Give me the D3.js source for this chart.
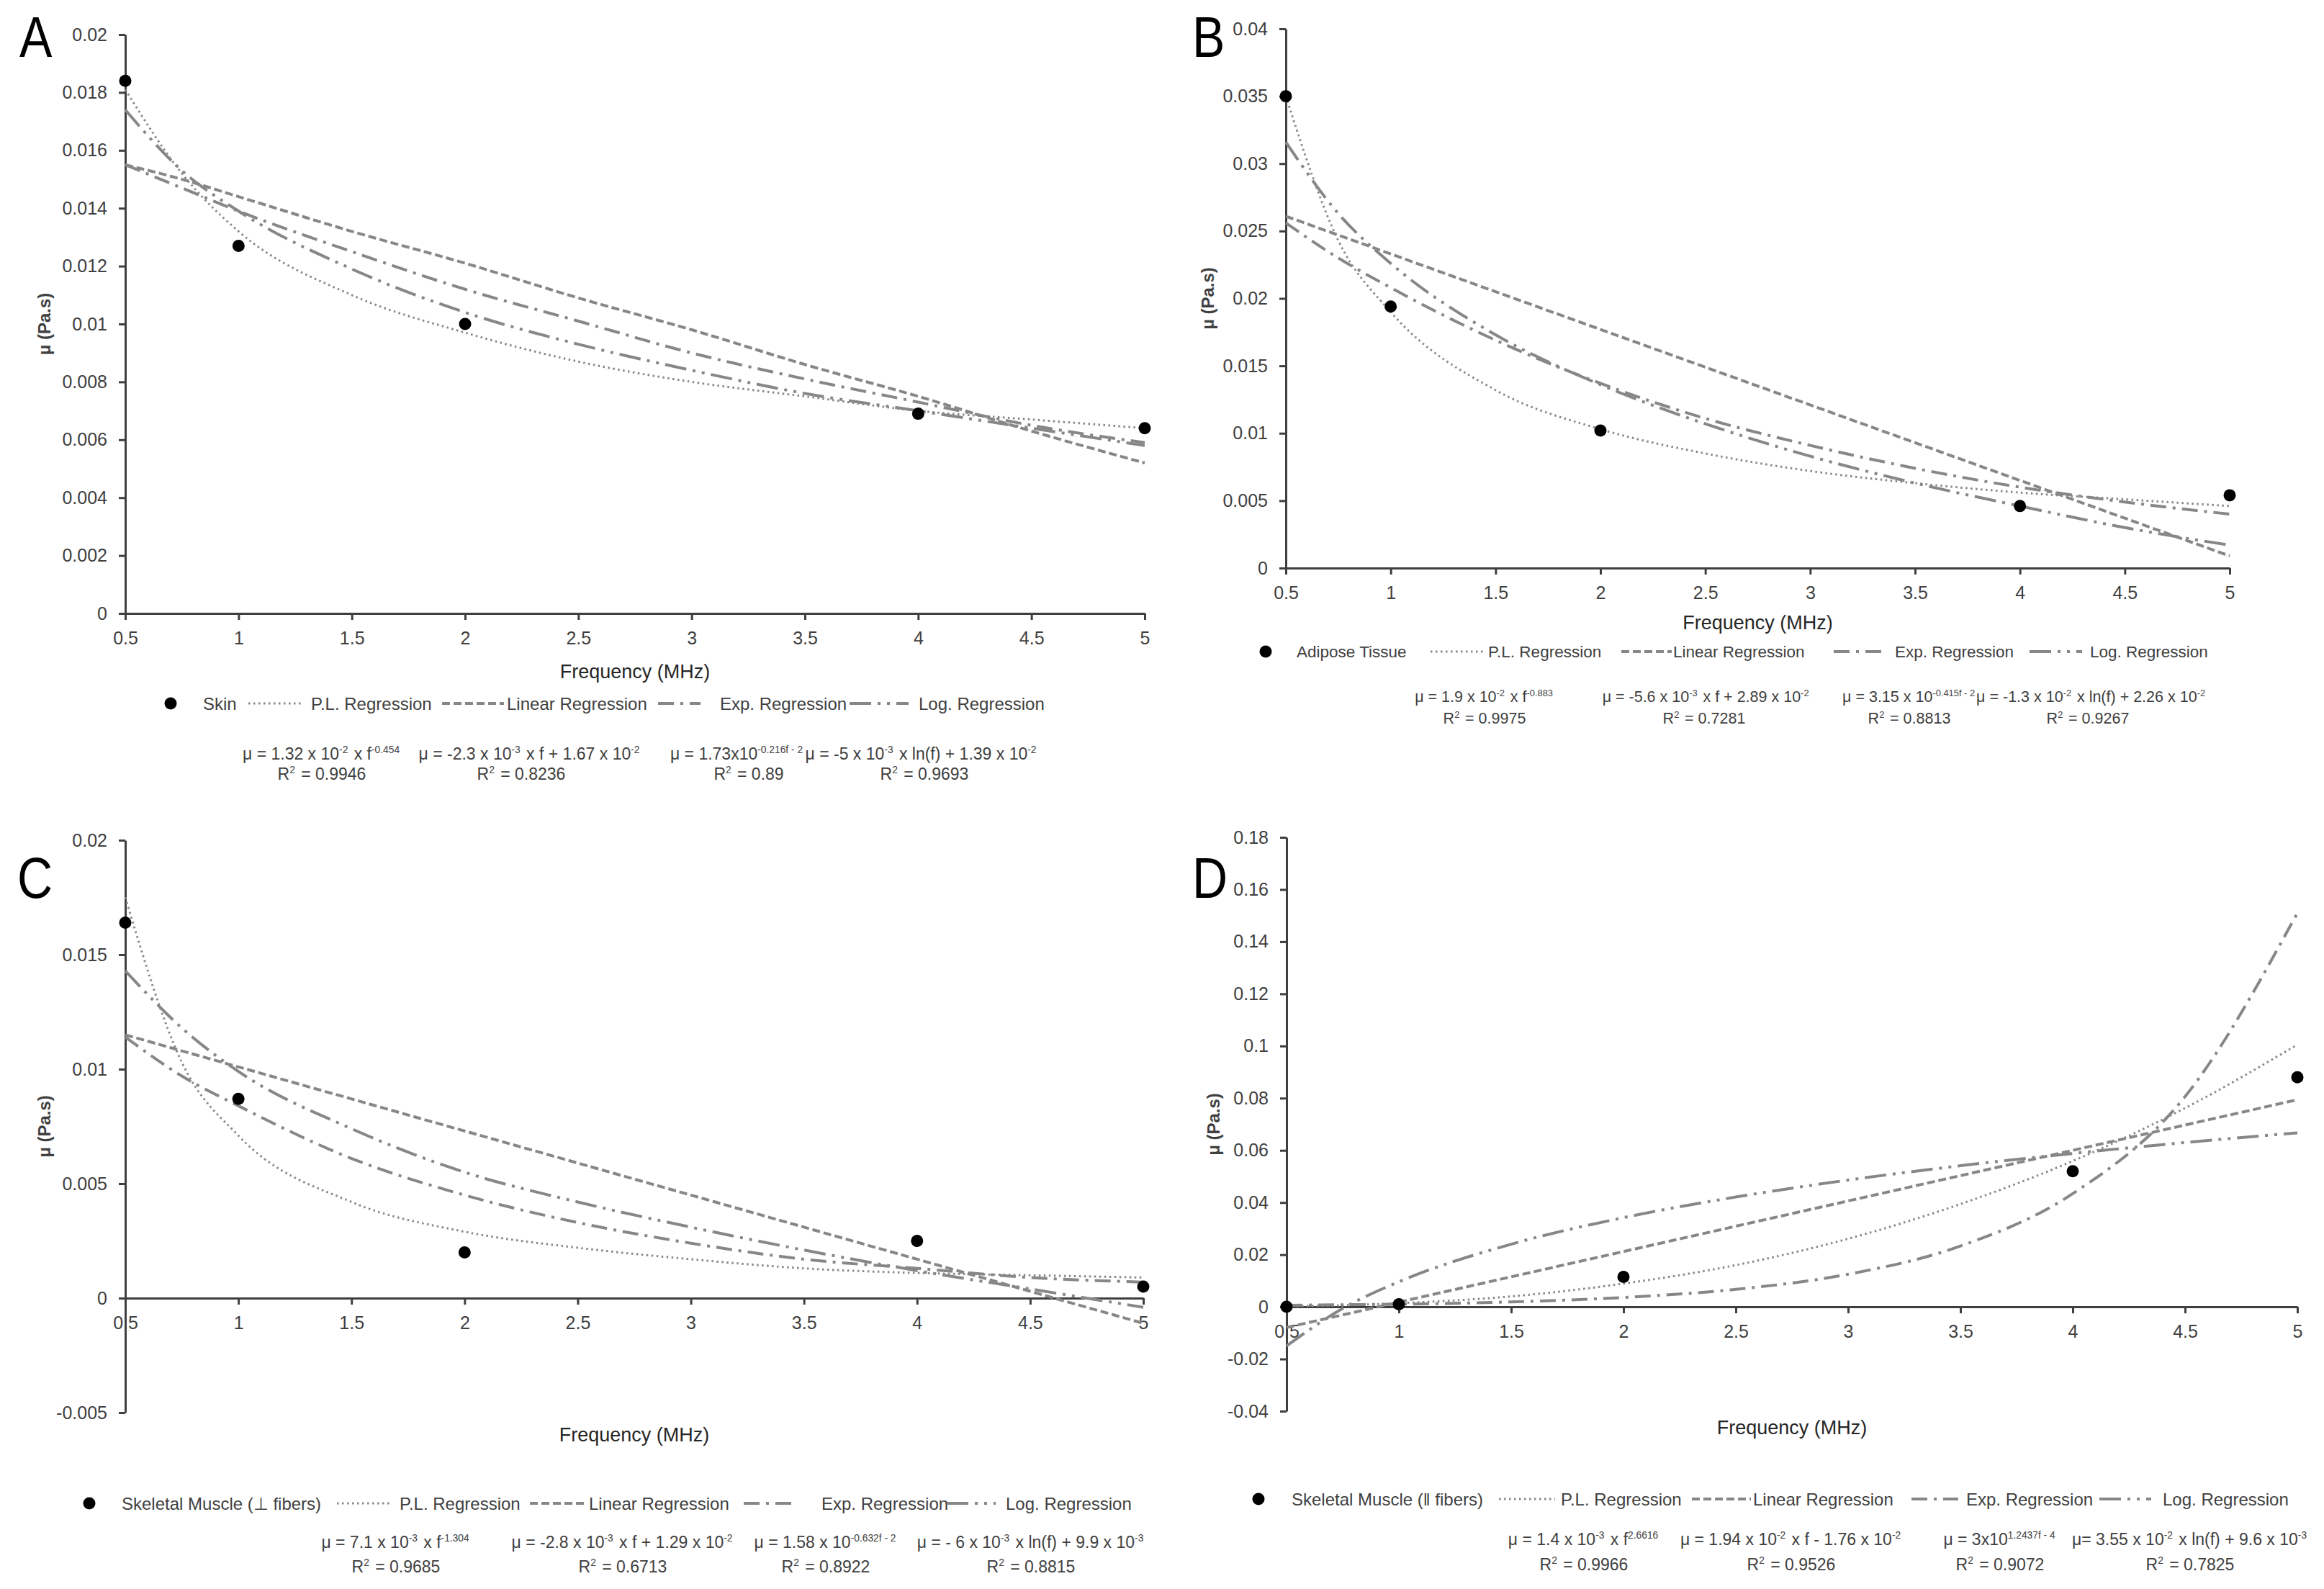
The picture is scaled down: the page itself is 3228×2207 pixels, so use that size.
<!DOCTYPE html>
<html>
<head>
<meta charset="utf-8">
<script src="https://cdn.jsdelivr.net/npm/d3@7/dist/d3.min.js"></script>
<style>
  body { margin: 0; background: #fff; }
  svg { display: block; }
  text { font-family: "Liberation Sans", Arial, sans-serif; }
</style>
</head>
<body>
<svg id="fig"></svg>
<script>
// ---- data ----
const xTicks = [0.5, 1, 1.5, 2, 2.5, 3, 3.5, 4, 4.5, 5];
const measuredFreq = [0.5, 1, 2, 4, 5];
const fitFreq = [0.5, 0.75, 1, 1.5, 2, 2.5, 3, 3.5, 4, 4.5, 5];

// A - skin
const skinTicks = [0, 0.002, 0.004, 0.006, 0.008, 0.01, 0.012, 0.014, 0.016, 0.018, 0.02];
const skinMeasured = [0.0184, 0.0127, 0.0100, 0.0069, 0.0064];
const skinPL = [0.0181, 0.0152, 0.0132, 0.0110, 0.0097, 0.0087, 0.0080, 0.0075, 0.0070, 0.0067, 0.0064];
const skinLinear = [0.0155, 0.0150, 0.0144, 0.0132, 0.0121, 0.0109, 0.0098, 0.0086, 0.0075, 0.0063, 0.0052];
const skinExp = [0.0155, 0.0147, 0.0139, 0.0125, 0.0112, 0.0101, 0.0090, 0.0081, 0.0073, 0.0065, 0.0059];
const skinLog = [0.0174, 0.0153, 0.0139, 0.0119, 0.0104, 0.0093, 0.0084, 0.0076, 0.0070, 0.0064, 0.0058];
const skinEqs = ["μ = 1.32 x 10^{-2} x f^{-0.454}", "μ = -2.3 x 10^{-3} x f + 1.67 x 10^{-2}",
                 "μ = 1.73x10^{-0.216f - 2}", "μ = -5 x 10^{-3} x ln(f) + 1.39 x 10^{-2}"];
const skinR2 = ["0.9946", "0.8236", "0.89", "0.9693"];

// B - adipose
const adiposeTicks = [0, 0.005, 0.01, 0.015, 0.02, 0.025, 0.03, 0.035, 0.04];
const adiposeMeasured = [0.0350, 0.0194, 0.0102, 0.0046, 0.0054];
const adiposePL = [0.0350, 0.0243, 0.0190, 0.0132, 0.0103, 0.0085, 0.0072, 0.0063, 0.0056, 0.0051, 0.0046];
const adiposeLinear = [0.0261, 0.0247, 0.0233, 0.0205, 0.0177, 0.0149, 0.0121, 0.0093, 0.0065, 0.0037, 0.0009];
const adiposeExp = [0.0256, 0.0230, 0.0208, 0.0169, 0.0137, 0.0111, 0.0091, 0.0074, 0.0060, 0.0049, 0.0040];
const adiposeLog = [0.0316, 0.0263, 0.0226, 0.0173, 0.0136, 0.0107, 0.0083, 0.0063, 0.0046, 0.0030, 0.0017];
const adiposeEqs = ["μ = 1.9 x 10^{-2} x f^{-0.883}", "μ = -5.6 x 10^{-3} x f + 2.89 x 10^{-2}",
                    "μ = 3.15 x 10^{-0.415f - 2}", "μ = -1.3 x 10^{-2} x ln(f) + 2.26 x 10^{-2}"];
const adiposeR2 = ["0.9975", "0.7281", "0.8813", "0.9267"];

// C - skeletal muscle, perpendicular
const perpTicks = [-0.005, 0, 0.005, 0.01, 0.015, 0.02];
const perpMeasured = [0.0164, 0.0087, 0.0020, 0.0025, 0.0005];
const perpPL = [0.0175, 0.0103, 0.0071, 0.0042, 0.0029, 0.0022, 0.0017, 0.0013, 0.0011, 0.0010, 0.0009];
const perpLinear = [0.0115, 0.0108, 0.0101, 0.0087, 0.0073, 0.0059, 0.0045, 0.0031, 0.0017, 0.0003, -0.0011];
const perpExp = [0.0114, 0.0097, 0.0084, 0.0061, 0.0045, 0.0033, 0.0024, 0.0017, 0.0013, 0.0009, 0.0007];
const perpLog = [0.0143, 0.0118, 0.0099, 0.0074, 0.0055, 0.0042, 0.0031, 0.0021, 0.0012, 0.0004, -0.0004];
const perpEqs = ["μ = 7.1 x 10^{-3} x f^{-1.304}", "μ = -2.8 x 10^{-3} x f + 1.29 x 10^{-2}",
                 "μ = 1.58 x 10^{-0.632f - 2}", "μ = - 6 x 10^{-3} x ln(f) + 9.9 x 10^{-3}"];
const perpR2 = ["0.9685", "0.6713", "0.8922", "0.8815"];

// D - skeletal muscle, parallel
const paraTicks = [-0.04, -0.02, 0, 0.02, 0.04, 0.06, 0.08, 0.1, 0.12, 0.14, 0.16, 0.18];
const paraMeasured = [0.0000, 0.0010, 0.0115, 0.0520, 0.0880];
const paraPL = [0.0002, 0.0006, 0.0014, 0.0040, 0.0089, 0.0160, 0.0261, 0.0394, 0.0559, 0.0762, 0.1005];
const paraLinear = [-0.0079, -0.0031, 0.0018, 0.0115, 0.0212, 0.0309, 0.0406, 0.0503, 0.0600, 0.0697, 0.0794];
const paraExp = [0.0006, 0.0008, 0.0010, 0.0019, 0.0036, 0.0067, 0.0125, 0.0233, 0.0434, 0.0806, 0.1510];
const paraLog = [-0.0150, -0.0006, 0.0096, 0.0240, 0.0342, 0.0421, 0.0486, 0.0541, 0.0588, 0.0630, 0.0667];
const paraEqs = ["μ = 1.4 x 10^{-3} x f^{2.6616}", "μ = 1.94 x 10^{-2} x f - 1.76 x 10^{-2}",
                 "μ = 3x10^{1.2437f - 4}", "μ= 3.55 x 10^{-2} x ln(f) + 9.6 x 10^{-3}"];
const paraR2 = ["0.9966", "0.9526", "0.9072", "0.7825"];

const fitNames = ["P.L. Regression", "Linear Regression", "Exp. Regression", "Log. Regression"];

// ---- styles ----
const grey = "#878787";
const ink = "#404040";
const fitStyles = [
    { dash: "2.5,4.5", width: 3 },
    { dash: "11,5", width: 4 },
    { dash: "22,9,4,9", width: 4 },
    { dash: "30,9,4,9,4,9", width: 4 }
];

const svg = d3.select("#fig")
    .attr("width", 3228)
    .attr("height", 2207)
    .attr("viewBox", "0 0 3228 2207");
svg.append("rect").attr("width", 3228).attr("height", 2207).attr("fill", "#fff");

// ---- layout of each panel ----
const panels = [
    {
        letter: "A", letterX: 27, letterY: 79,
        left: 174, right: 1590, top: 48, bottom: 852, yMin: 0, yMax: 0.02,
        yTicks: skinTicks, measured: skinMeasured, fits: [skinPL, skinLinear, skinExp, skinLog],
        yLabelX: 70, xTitleY: 942, seriesName: "Skin",
        legendY: 977, legendSize: 24, markerX: 237, nameX: 282,
        legendItems: [[345, 422, 432], [614, 700, 704], [914, 973, 1000], [1180, 1262, 1276]],
        eqY: 1055, r2Y: 1083, eqSize: 23, eqs: skinEqs, r2: skinR2,
        eqX: [447, 736, 1024, 1280], r2X: [447, 724, 1040, 1284]
    },
    {
        letter: "B", letterX: 1656, letterY: 79,
        left: 1786, right: 3097, top: 40, bottom: 789, yMin: 0, yMax: 0.04,
        yTicks: adiposeTicks, measured: adiposeMeasured, fits: [adiposePL, adiposeLinear, adiposeExp, adiposeLog],
        yLabelX: 1686, xTitleY: 874, seriesName: "Adipose Tissue",
        legendY: 905, legendSize: 22.5, markerX: 1758, nameX: 1801,
        legendItems: [[1987, 2060, 2067], [2252, 2322, 2324], [2547, 2613, 2632], [2819, 2892, 2903]],
        eqY: 975, r2Y: 1005, eqSize: 21.5, eqs: adiposeEqs, r2: adiposeR2,
        eqX: [2062, 2370, 2652, 2905], r2X: [2062, 2367, 2652, 2900]
    },
    {
        letter: "C", letterX: 24, letterY: 1247,
        left: 174, right: 1588, top: 1167, bottom: 1962, yMin: -0.005, yMax: 0.02,
        yTicks: perpTicks, measured: perpMeasured, fits: [perpPL, perpLinear, perpExp, perpLog],
        yLabelX: 70, xTitleY: 2002, seriesName: "Skeletal Muscle (\u22a5 fibers)",
        legendY: 2088, legendSize: 24, markerX: 124, nameX: 169,
        legendItems: [[468, 542, 555], [736, 813, 818], [1033, 1100, 1141], [1315, 1383, 1397]],
        eqY: 2150, r2Y: 2184, eqSize: 23, eqs: perpEqs, r2: perpR2,
        eqX: [550, 865, 1147, 1432], r2X: [550, 865, 1147, 1432]
    },
    {
        letter: "D", letterX: 1656, letterY: 1247,
        left: 1787, right: 3191, top: 1163, bottom: 1960, yMin: -0.04, yMax: 0.18,
        yTicks: paraTicks, measured: paraMeasured, fits: [paraPL, paraLinear, paraExp, paraLog],
        yLabelX: 1694, xTitleY: 1992, seriesName: "Skeletal Muscle (\u2016 fibers)",
        legendY: 2082, legendSize: 24, markerX: 1748, nameX: 1794,
        legendItems: [[2082, 2160, 2168], [2350, 2432, 2435], [2655, 2720, 2731], [2916, 2988, 3004]],
        eqY: 2146, r2Y: 2181, eqSize: 23, eqs: paraEqs, r2: paraR2,
        eqX: [2200, 2488, 2778, 3042], r2X: [2200, 2488, 2778, 3042]
    }
];

// writes "a^{b}c" as text with raised small tspans
function richText(sel, str, size) {
    const parts = str.split(/(\^\{[^}]*\})/);
    parts.forEach(p => {
        if (!p) return;
        if (p.startsWith("^{")) {
            sel.append("tspan")
                .attr("dy", -size * 0.38)
                .attr("font-size", size * 0.6)
                .text(p.slice(2, -1));
            sel.append("tspan").attr("dy", size * 0.38).attr("font-size", size).text("\u200a");
        } else {
            sel.append("tspan").text(p);
        }
    });
}

function drawPanel(p) {
    const g = svg.append("g");

    let xScale = d3.scaleLinear()
        .domain([0.5, 5])
        .range([p.left, p.right]);

    let yScale = d3.scaleLinear()
        .domain([p.yMin, p.yMax])
        .range([p.bottom, p.top]);

    // panel letter
    g.append("text")
        .attr("x", p.letterX)
        .attr("y", p.letterY)
        .attr("font-size", 80)
        .attr("transform", `translate(${p.letterX},0) scale(0.85,1) translate(${-p.letterX},0)`)
        .attr("fill", "#000")
        .text(p.letter);

    // y axis
    const yAxis = g.append("g")
        .attr("transform", `translate(${p.left},0)`)
        .call(d3.axisLeft(yScale).tickValues(p.yTicks).tickFormat(d => String(d))
            .tickSize(9).tickSizeOuter(0).tickPadding(16));

    // x axis sits on the zero line
    const xAxis = g.append("g")
        .attr("transform", `translate(0,${yScale(0)})`)
        .call(d3.axisBottom(xScale).tickValues(xTicks).tickFormat(d => String(d))
            .tickSize(9).tickSizeOuter(0).tickPadding(16));

    [yAxis, xAxis].forEach(a => {
        a.select(".domain").attr("stroke", "#3f3f3f").attr("stroke-width", 3);
        a.selectAll(".tick line").attr("stroke", "#3f3f3f").attr("stroke-width", 3);
        a.selectAll(".tick text")
            .attr("font-family", "'Liberation Sans', Arial, sans-serif")
            .attr("font-size", 25)
            .attr("fill", ink);
    });

    // axis titles
    g.append("text")
        .attr("transform", `translate(${p.yLabelX},${(p.top + p.bottom) / 2}) rotate(-90)`)
        .attr("text-anchor", "middle")
        .attr("font-weight", "bold")
        .attr("font-size", 24)
        .attr("fill", ink)
        .text("\u03bc (Pa.s)");

    g.append("text")
        .attr("x", (p.left + p.right) / 2)
        .attr("y", p.xTitleY)
        .attr("text-anchor", "middle")
        .attr("font-size", 27)
        .attr("fill", "#262626")
        .text("Frequency (MHz)");

    // fitted curves
    const line = d3.line()
        .x((d, i) => xScale(fitFreq[i]))
        .y(d => yScale(d))
        .curve(d3.curveMonotoneX);

    g.selectAll("path.fit")
        .data(p.fits)
        .join("path")
        .attr("class", "fit")
        .attr("d", line)
        .attr("fill", "none")
        .attr("stroke", grey)
        .attr("stroke-width", (d, i) => fitStyles[i].width)
        .attr("stroke-dasharray", (d, i) => fitStyles[i].dash);

    // measured points
    g.selectAll("circle.pt")
        .data(p.measured)
        .join("circle")
        .attr("class", "pt")
        .attr("cx", (d, i) => xScale(measuredFreq[i]))
        .attr("cy", d => yScale(d))
        .attr("r", 8.5)
        .attr("fill", "#000");

    // legend
    g.append("circle")
        .attr("cx", p.markerX)
        .attr("cy", p.legendY)
        .attr("r", 8.5)
        .attr("fill", "#000");
    g.append("text")
        .attr("x", p.nameX)
        .attr("y", p.legendY + p.legendSize * 0.36)
        .attr("font-size", p.legendSize)
        .attr("fill", ink)
        .text(p.seriesName);

    p.legendItems.forEach((item, i) => {
        g.append("line")
            .attr("x1", item[0]).attr("x2", item[1])
            .attr("y1", p.legendY).attr("y2", p.legendY)
            .attr("stroke", grey)
            .attr("stroke-width", fitStyles[i].width)
            .attr("stroke-dasharray", fitStyles[i].dash);
        g.append("text")
            .attr("x", item[2])
            .attr("y", p.legendY + p.legendSize * 0.36)
            .attr("font-size", p.legendSize)
            .attr("fill", ink)
            .text(fitNames[i]);
    });

    // equations and R² (two-line labels, centred)
    p.eqs.forEach((eq, i) => {
        const t = g.append("text")
            .attr("x", p.eqX[i])
            .attr("y", p.eqY)
            .attr("text-anchor", "middle")
            .attr("font-size", p.eqSize)
            .attr("fill", ink);
        richText(t, eq, p.eqSize);

        const r = g.append("text")
            .attr("x", p.r2X[i])
            .attr("y", p.r2Y)
            .attr("text-anchor", "middle")
            .attr("font-size", p.eqSize)
            .attr("fill", ink);
        richText(r, "R^{2} = " + p.r2[i], p.eqSize);
    });
}

panels.forEach(drawPanel);
</script>
</body>
</html>
